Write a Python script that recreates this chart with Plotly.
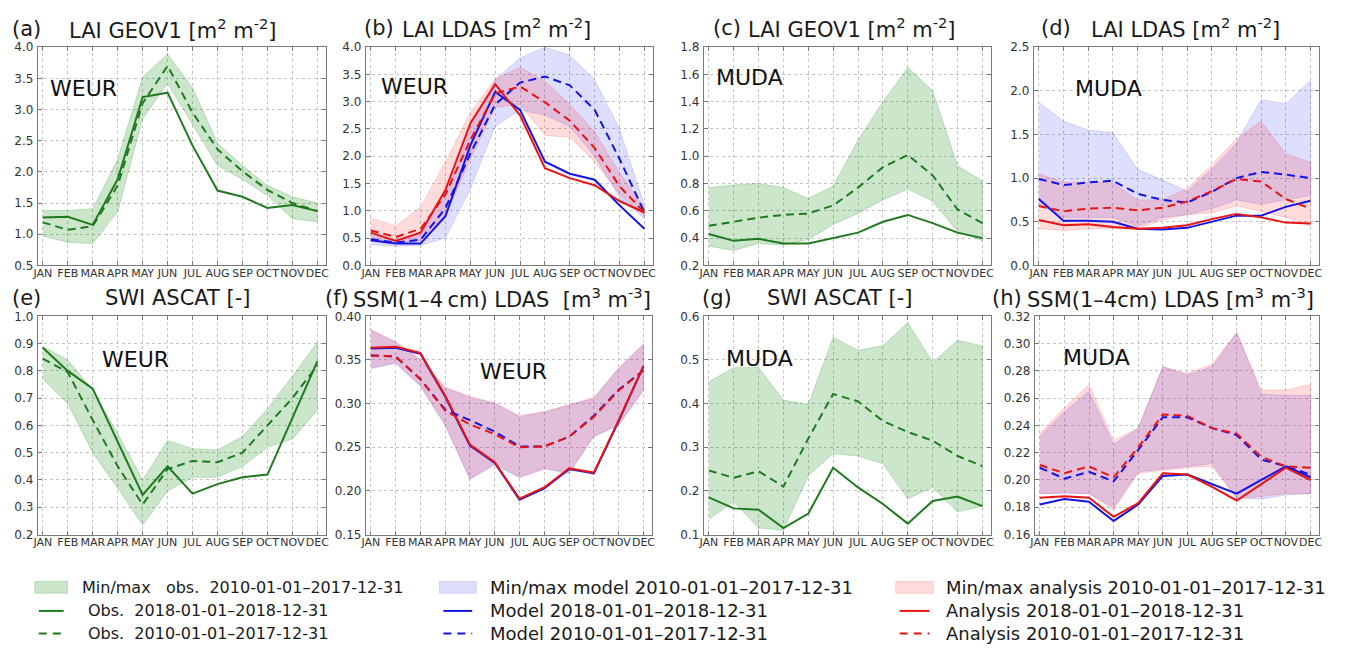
import plotly.graph_objects as go

months = ["JAN", "FEB", "MAR", "APR", "MAY", "JUN", "JUL", "AUG", "SEP", "OCT", "NOV", "DEC"]
idx = list(range(12))

# (a) LAI GEOV1 WEUR
a_obs18 = [1.27, 1.28, 1.15, 1.88, 3.20, 3.27, 2.42, 1.70, 1.60, 1.42, 1.47, 1.37]
a_obsmean = [1.19, 1.07, 1.13, 1.78, 3.10, 3.70, 2.95, 2.36, 2.01, 1.71, 1.50, 1.37]
a_max = [1.38, 1.38, 1.41, 2.20, 3.52, 3.89, 3.35, 2.46, 2.10, 1.78, 1.60, 1.50]
a_min = [0.97, 0.87, 0.85, 1.36, 2.85, 3.42, 2.76, 2.10, 1.88, 1.62, 1.25, 1.20]

# (b) LAI LDAS WEUR
b_mod18 = [0.46, 0.40, 0.40, 0.90, 2.20, 3.18, 2.85, 1.90, 1.68, 1.57, 1.10, 0.67]
b_ana18 = [0.60, 0.45, 0.60, 1.38, 2.60, 3.32, 2.75, 1.78, 1.60, 1.47, 1.18, 0.97]
b_modmean = [0.48, 0.42, 0.47, 1.05, 2.05, 2.95, 3.35, 3.46, 3.30, 2.85, 1.95, 0.97]
b_anamean = [0.64, 0.52, 0.67, 1.30, 2.30, 3.15, 3.28, 2.99, 2.65, 2.15, 1.45, 0.97]
b_modmax = [0.56, 0.46, 0.62, 1.28, 2.50, 3.40, 3.80, 4.00, 3.85, 3.40, 2.50, 1.10]
b_modmin = [0.38, 0.35, 0.37, 0.50, 1.40, 2.55, 2.85, 2.75, 2.55, 2.00, 1.25, 0.85]
b_anamax = [0.87, 0.72, 1.07, 1.90, 2.80, 3.42, 3.63, 3.38, 2.95, 2.45, 1.70, 1.05]
b_anamin = [0.45, 0.40, 0.45, 0.90, 1.95, 2.90, 2.95, 2.38, 2.35, 1.90, 1.30, 0.90]

# (c) LAI GEOV1 MUDA
c_obs18 = [0.43, 0.38, 0.395, 0.36, 0.36, 0.40, 0.44, 0.52, 0.57, 0.51, 0.44, 0.40]
c_obsmean = [0.49, 0.52, 0.55, 0.57, 0.58, 0.64, 0.77, 0.92, 1.01, 0.86, 0.61, 0.51]
c_max = [0.77, 0.79, 0.80, 0.77, 0.69, 0.78, 1.12, 1.40, 1.65, 1.48, 0.93, 0.82]
c_min = [0.34, 0.31, 0.36, 0.35, 0.39, 0.50, 0.58, 0.68, 0.76, 0.67, 0.45, 0.38]

# (d) LAI LDAS MUDA
d_mod18 = [0.76, 0.51, 0.51, 0.50, 0.42, 0.41, 0.43, 0.50, 0.57, 0.57, 0.67, 0.74]
d_ana18 = [0.52, 0.46, 0.47, 0.44, 0.42, 0.43, 0.46, 0.53, 0.59, 0.55, 0.49, 0.48]
d_modmean = [0.99, 0.92, 0.95, 0.97, 0.82, 0.75, 0.72, 0.84, 1.00, 1.07, 1.04, 1.00]
d_anamean = [0.68, 0.62, 0.65, 0.66, 0.63, 0.66, 0.73, 0.85, 0.99, 0.96, 0.76, 0.65]
d_modmax = [1.87, 1.65, 1.55, 1.52, 1.10, 0.98, 0.85, 1.10, 1.40, 1.90, 1.85, 2.12]
d_modmin = [0.70, 0.55, 0.55, 0.55, 0.45, 0.55, 0.58, 0.65, 0.75, 0.70, 0.75, 0.80]
d_anamax = [1.05, 0.95, 0.95, 0.95, 0.75, 0.75, 0.88, 1.15, 1.45, 1.65, 1.28, 1.18]
d_anamin = [0.42, 0.40, 0.42, 0.42, 0.42, 0.52, 0.58, 0.60, 0.68, 0.62, 0.55, 0.45]

# (e) SWI ASCAT WEUR
e_obs18 = [0.885, 0.80, 0.735, 0.54, 0.345, 0.45, 0.35, 0.385, 0.41, 0.42, 0.63, 0.835]
e_obsmean = [0.845, 0.795, 0.62, 0.45, 0.31, 0.44, 0.47, 0.465, 0.50, 0.60, 0.70, 0.82]
e_max = [0.89, 0.84, 0.73, 0.57, 0.40, 0.545, 0.515, 0.51, 0.56, 0.66, 0.78, 0.905]
e_min = [0.77, 0.68, 0.50, 0.37, 0.235, 0.36, 0.41, 0.41, 0.45, 0.52, 0.55, 0.655]

# (f) SSM LDAS WEUR
f_mod18 = [0.363, 0.364, 0.357, 0.308, 0.252, 0.232, 0.190, 0.203, 0.225, 0.220, 0.280, 0.343]
f_ana18 = [0.364, 0.365, 0.358, 0.309, 0.253, 0.233, 0.191, 0.204, 0.226, 0.221, 0.281, 0.343]
f_modmean = [0.355, 0.354, 0.328, 0.293, 0.281, 0.268, 0.251, 0.251, 0.262, 0.286, 0.316, 0.338]
f_anamean = [0.355, 0.354, 0.328, 0.292, 0.276, 0.265, 0.250, 0.251, 0.262, 0.285, 0.315, 0.338]
f_modmax = [0.384, 0.370, 0.350, 0.318, 0.307, 0.300, 0.285, 0.290, 0.298, 0.306, 0.340, 0.368]
f_modmin = [0.340, 0.346, 0.320, 0.275, 0.213, 0.230, 0.215, 0.225, 0.220, 0.262, 0.275, 0.315]
f_anamax = [0.385, 0.371, 0.351, 0.319, 0.308, 0.301, 0.286, 0.291, 0.299, 0.307, 0.341, 0.368]
f_anamin = [0.341, 0.347, 0.321, 0.276, 0.214, 0.231, 0.216, 0.226, 0.221, 0.263, 0.276, 0.316]

# (g) SWI ASCAT MUDA
g_obs18 = [0.185, 0.160, 0.157, 0.115, 0.148, 0.253, 0.208, 0.170, 0.125, 0.177, 0.187, 0.165]
g_obsmean = [0.247, 0.230, 0.245, 0.210, 0.320, 0.422, 0.405, 0.360, 0.335, 0.315, 0.280, 0.257]
g_max = [0.450, 0.482, 0.483, 0.408, 0.398, 0.552, 0.522, 0.533, 0.585, 0.495, 0.545, 0.532]
g_min = [0.135, 0.175, 0.115, 0.110, 0.235, 0.285, 0.280, 0.262, 0.182, 0.208, 0.152, 0.165]

# (h) SSM LDAS MUDA
h_mod18 = [0.182, 0.186, 0.184, 0.170, 0.182, 0.203, 0.204, 0.197, 0.190, 0.200, 0.210, 0.202]
h_ana18 = [0.187, 0.188, 0.187, 0.173, 0.183, 0.205, 0.204, 0.195, 0.185, 0.197, 0.209, 0.200]
h_modmean = [0.209, 0.201, 0.206, 0.199, 0.222, 0.246, 0.246, 0.238, 0.233, 0.215, 0.210, 0.204]
h_anamean = [0.211, 0.205, 0.210, 0.202, 0.224, 0.248, 0.247, 0.238, 0.234, 0.217, 0.210, 0.209]
h_modmax = [0.232, 0.250, 0.265, 0.226, 0.238, 0.283, 0.277, 0.283, 0.308, 0.263, 0.262, 0.262]
h_modmin = [0.190, 0.190, 0.190, 0.180, 0.206, 0.208, 0.210, 0.212, 0.187, 0.186, 0.189, 0.190]
h_anamax = [0.234, 0.253, 0.270, 0.229, 0.238, 0.283, 0.278, 0.285, 0.308, 0.266, 0.266, 0.270]
h_anamin = [0.190, 0.191, 0.190, 0.178, 0.205, 0.207, 0.209, 0.210, 0.186, 0.188, 0.190, 0.190]

GREEN = "#1f7a1f"
BLUE = "#1414e6"
RED = "#e81414"
GREEN_F = "rgba(0,128,0,0.20)"
BLUE_F = "rgba(0,0,255,0.13)"
RED_F = "rgba(255,0,0,0.14)"
DASH = "8px,5px"

W, H = 1348, 660
fig = go.Figure()


def band(n, hi, lo, fc):
    fig.add_trace(go.Scatter(
        x=idx + idx[::-1], y=hi + lo[::-1], fill="toself", fillcolor=fc,
        line=dict(color=fc, width=1), mode="lines", showlegend=False,
        hoverinfo="skip", xaxis=f"x{n}", yaxis=f"y{n}"))


def line(n, y, color, dash=None):
    fig.add_trace(go.Scatter(
        x=idx, y=y, mode="lines", line=dict(color=color, width=2, dash=dash),
        showlegend=False, xaxis=f"x{n}", yaxis=f"y{n}"))


# observation panels
for n, mx, mn, o18, om in [(1, a_max, a_min, a_obs18, a_obsmean),
                           (3, c_max, c_min, c_obs18, c_obsmean),
                           (5, e_max, e_min, e_obs18, e_obsmean),
                           (7, g_max, g_min, g_obs18, g_obsmean)]:
    band(n, mx, mn, GREEN_F)
    line(n, o18, GREEN)
    line(n, om, GREEN, DASH)

# LDAS panels
for n, mmx, mmn, amx, amn, m18, a18, mm, am in [
        (2, b_modmax, b_modmin, b_anamax, b_anamin, b_mod18, b_ana18, b_modmean, b_anamean),
        (4, d_modmax, d_modmin, d_anamax, d_anamin, d_mod18, d_ana18, d_modmean, d_anamean),
        (6, f_modmax, f_modmin, f_anamax, f_anamin, f_mod18, f_ana18, f_modmean, f_anamean),
        (8, h_modmax, h_modmin, h_anamax, h_anamin, h_mod18, h_ana18, h_modmean, h_anamean)]:
    band(n, mmx, mmn, BLUE_F)
    band(n, amx, amn, RED_F)
    line(n, m18, BLUE)
    line(n, a18, RED)
    line(n, mm, BLUE, DASH)
    line(n, am, RED, DASH)

# layout geometry (pixels)
xdom_px = [(33, 323), (363, 652), (703, 992), (1035, 1322),
           (33, 323), (363, 651), (703, 992), (1036, 1322)]
ydom_px = [(41, 264)] * 4 + [(316, 539)] * 4
yranges = [(0.5, 4.0), (0.0, 4.0), (0.2, 1.8), (0.0, 2.5),
           (0.2, 1.0), (0.15, 0.40), (0.1, 0.6), (0.16, 0.32)]
ydtick = [0.5, 0.5, 0.2, 0.5, 0.1, 0.05, 0.1, 0.02]
yfmt = [".1f", ".1f", ".1f", ".1f", ".1f", ".2f", ".1f", ".2f"]

axis_common = dict(showline=True, mirror="ticks", linecolor="#7a7a7a", linewidth=1,
                   ticks="inside", ticklen=4, tickcolor="#7a7a7a",
                   showgrid=True, gridcolor="#c4c4c4", griddash="dot", gridwidth=1,
                   zeroline=False)

for i in range(8):
    n = i + 1
    x0, x1 = xdom_px[i]
    y0, y1 = ydom_px[i]
    fig.layout[f"xaxis{n}" if n > 1 else "xaxis"] = dict(
        axis_common, domain=[x0 / W, x1 / W], range=[-0.2, 11.35],
        tickvals=idx, ticktext=months, tickangle=0, anchor=f"y{n}",
        tickfont=dict(family="DejaVu Sans", size=11, color="#333"),
        ticklabelstandoff=-3)
    fig.layout[f"yaxis{n}" if n > 1 else "yaxis"] = dict(
        axis_common, domain=[1 - y1 / H, 1 - y0 / H], range=list(yranges[i]),
        dtick=ydtick[i], tick0=yranges[i][0], tickformat=yfmt[i], anchor=f"x{n}",
        tickfont=dict(family="DejaVu Sans", size=12, color="#333"),
        ticklabelstandoff=1)

annotations = []
TF = dict(family="DejaVu Sans", size=21, color="#1a1a1a")


def ann(xpx, ypx, text, font=TF, xanchor="left"):
    annotations.append(dict(x=xpx / W, y=1 - ypx / H, xref="paper", yref="paper",
                            text=text, showarrow=False, xanchor=xanchor,
                            yanchor="middle", font=font, borderpad=0))


titles = [
    (6, 63, 22, "(a)", "LAI GEOV1 [m<sup>2</sup> m<sup>-2</sup>]"),
    (360, 398, 21, "(b)", "LAI LDAS [m<sup>2</sup> m<sup>-2</sup>]"),
    (711, 746, 21, "(c)", "LAI GEOV1 [m<sup>2</sup> m<sup>-2</sup>]"),
    (1041, 1091, 21, "(d)", "LAI LDAS [m<sup>2</sup> m<sup>-2</sup>]"),
    (6, 100, 297, "(e)", "SWI ASCAT [-]"),
    (321, 349, 297, "(f)", "SSM(1\u20134\u2009cm) LDAS\u00a0 [m<sup>3</sup> m<sup>-3</sup>]"),
    (700, 766, 297, "(g)", "SWI ASCAT [-]"),
    (992, 1027, 297, "(h)", "SSM(1\u20134cm) LDAS [m<sup>3</sup> m<sup>-3</sup>]"),
]
for lx, tx, ty, lab, txt in titles:
    ann(lx, ty, lab)
    ann(tx, ty, txt)

regions = [(0.040, 0.81, "WEUR"), (0.048, 0.82, "WEUR"), (0.038, 0.86, "MUDA"),
           (0.142, 0.81, "MUDA"), (0.220, 0.80, "WEUR"), (0.396, 0.745, "WEUR"),
           (0.072, 0.805, "MUDA"), (0.097, 0.81, "MUDA")]
for i, (fx, fy, txt) in enumerate(regions):
    n = i + 1
    xr = "x domain" if n == 1 else f"x{n} domain"
    yr = "y domain" if n == 1 else f"y{n} domain"
    annotations.append(dict(x=fx, y=fy, xref=xr, yref=yr, text=txt, showarrow=False,
                            xanchor="left", yanchor="middle", borderpad=0,
                            font=dict(family="DejaVu Sans", size=22, color="#111")))

# legend (drawn manually in three columns)
LF1 = dict(family="DejaVu Sans", size=16, color="#1a1a1a")
LF = dict(family="DejaVu Sans", size=18, color="#1a1a1a")
shapes = []
legend_cols = [
    (30, 63, 76, 82, GREEN_F, GREEN, LF1,
     ["Min/max\u00a0\u00a0 obs.\u00a0 2010-01-01\u20132017-12-31",
      "Obs.\u00a0 2018-01-01\u20132018-12-31",
      "Obs.\u00a0 2010-01-01\u20132017-12-31"]),
    (437, 474, 487, 487, BLUE_F, BLUE, LF,
     ["Min/max model 2010-01-01\u20132017-12-31",
      "Model 2018-01-01\u20132018-12-31",
      "Model 2010-01-01\u20132017-12-31"]),
    (896, 934, 946, 946, RED_F, RED, LF,
     ["Min/max analysis 2010-01-01\u20132017-12-31",
      "Analysis 2018-01-01\u20132018-12-31",
      "Analysis 2010-01-01\u20132017-12-31"]),
]
rows_y = [593, 617, 640]
for px0, px1, tx0, tx1, fc, lc, font, texts in legend_cols:
    shapes.append(dict(type="rect", xref="paper", yref="paper",
                       x0=px0 / W, x1=px1 / W, y0=1 - 599 / H, y1=1 - 587 / H,
                       fillcolor=fc, line=dict(color=fc, width=1)))
    shapes.append(dict(type="line", xref="paper", yref="paper",
                       x0=(px0 + 4) / W, x1=(px1 - 4) / W, y0=1 - rows_y[1] / H, y1=1 - rows_y[1] / H,
                       line=dict(color=lc, width=2)))
    shapes.append(dict(type="line", xref="paper", yref="paper",
                       x0=(px0 + 4) / W, x1=(px1 - 4) / W, y0=1 - rows_y[2] / H, y1=1 - rows_y[2] / H,
                       line=dict(color=lc, width=2, dash="8px,6px")))
    ann(tx0, rows_y[0], texts[0], font)
    ann(tx1, rows_y[1], texts[1], font)
    ann(tx1, rows_y[2], texts[2], font)

fig.update_layout(width=W, height=H, margin=dict(l=0, r=0, t=0, b=0),
                  paper_bgcolor="white", plot_bgcolor="white",
                  annotations=annotations, shapes=shapes, showlegend=False,
                  font=dict(family="DejaVu Sans"))

fig.write_html("out.html")
